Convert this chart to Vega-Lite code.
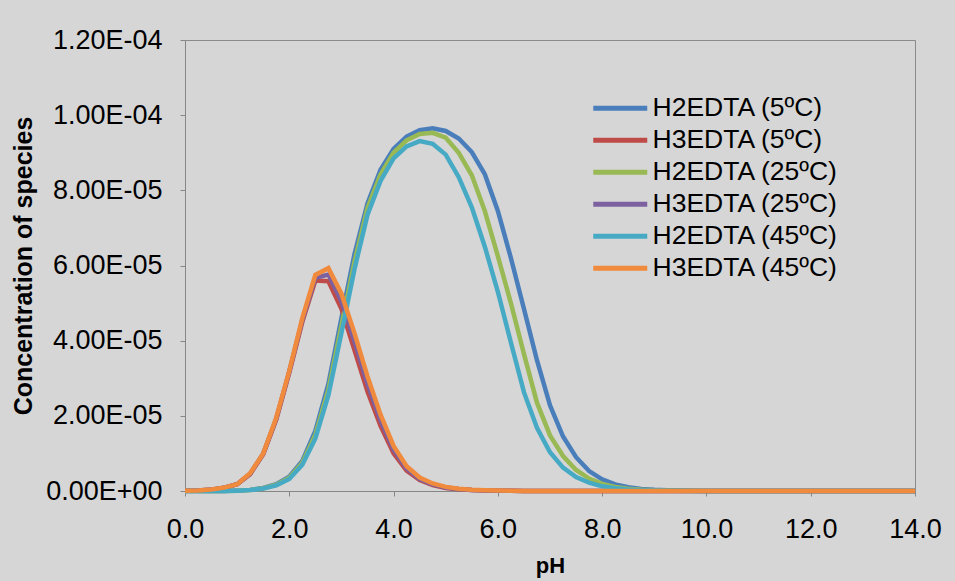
{
  "$schema": "https://vega.github.io/schema/vega-lite/v6.json",
  "width": 730,
  "height": 451,
  "autosize": {"type": "none"},
  "padding": {"left": 185, "top": 40, "right": 40, "bottom": 90},
  "background": "#d6d6d6",
  "config": {"font": "Liberation Sans", "view": {"stroke": "#8a8a8a", "strokeWidth": 1}},
  "data": {"values": [
    {"s":"H2EDTA (5ºC)","pH":0,"c":0},{"s":"H2EDTA (5ºC)","pH":0.25,"c":0},{"s":"H2EDTA (5ºC)","pH":0.5,"c":0.01e-6},{"s":"H2EDTA (5ºC)","pH":0.75,"c":0.03e-6},
    {"s":"H2EDTA (5ºC)","pH":1,"c":0.1e-6},{"s":"H2EDTA (5ºC)","pH":1.25,"c":0.3e-6},{"s":"H2EDTA (5ºC)","pH":1.5,"c":0.8e-6},{"s":"H2EDTA (5ºC)","pH":1.75,"c":1.8e-6},
    {"s":"H2EDTA (5ºC)","pH":2,"c":3.8e-6},{"s":"H2EDTA (5ºC)","pH":2.25,"c":8e-6},{"s":"H2EDTA (5ºC)","pH":2.5,"c":16e-6},{"s":"H2EDTA (5ºC)","pH":2.75,"c":28.5e-6},
    {"s":"H2EDTA (5ºC)","pH":3,"c":46e-6},{"s":"H2EDTA (5ºC)","pH":3.25,"c":63e-6},{"s":"H2EDTA (5ºC)","pH":3.5,"c":76.5e-6},{"s":"H2EDTA (5ºC)","pH":3.75,"c":85.5e-6},
    {"s":"H2EDTA (5ºC)","pH":4,"c":91e-6},{"s":"H2EDTA (5ºC)","pH":4.25,"c":94.3e-6},{"s":"H2EDTA (5ºC)","pH":4.5,"c":96e-6},{"s":"H2EDTA (5ºC)","pH":4.75,"c":96.5e-6},
    {"s":"H2EDTA (5ºC)","pH":5,"c":95.8e-6},{"s":"H2EDTA (5ºC)","pH":5.25,"c":93.8e-6},{"s":"H2EDTA (5ºC)","pH":5.5,"c":90.2e-6},{"s":"H2EDTA (5ºC)","pH":5.75,"c":84.3e-6},
    {"s":"H2EDTA (5ºC)","pH":6,"c":74.5e-6},{"s":"H2EDTA (5ºC)","pH":6.25,"c":62e-6},{"s":"H2EDTA (5ºC)","pH":6.5,"c":48.5e-6},{"s":"H2EDTA (5ºC)","pH":6.75,"c":34.8e-6},
    {"s":"H2EDTA (5ºC)","pH":7,"c":22.8e-6},{"s":"H2EDTA (5ºC)","pH":7.25,"c":14.5e-6},{"s":"H2EDTA (5ºC)","pH":7.5,"c":9e-6},{"s":"H2EDTA (5ºC)","pH":7.75,"c":5.3e-6},
    {"s":"H2EDTA (5ºC)","pH":8,"c":3.1e-6},{"s":"H2EDTA (5ºC)","pH":8.25,"c":1.75e-6},{"s":"H2EDTA (5ºC)","pH":8.5,"c":1e-6},{"s":"H2EDTA (5ºC)","pH":8.75,"c":0.56e-6},
    {"s":"H2EDTA (5ºC)","pH":9,"c":0.32e-6},{"s":"H2EDTA (5ºC)","pH":9.25,"c":0.18e-6},{"s":"H2EDTA (5ºC)","pH":9.5,"c":0.1e-6},{"s":"H2EDTA (5ºC)","pH":9.75,"c":0.056e-6},
    {"s":"H2EDTA (5ºC)","pH":10,"c":0.03e-6},{"s":"H2EDTA (5ºC)","pH":10.5,"c":0.01e-6},{"s":"H2EDTA (5ºC)","pH":11,"c":0.003e-6},{"s":"H2EDTA (5ºC)","pH":11.5,"c":0},
    {"s":"H2EDTA (5ºC)","pH":12,"c":0},{"s":"H2EDTA (5ºC)","pH":12.5,"c":0},{"s":"H2EDTA (5ºC)","pH":13,"c":0},{"s":"H2EDTA (5ºC)","pH":13.5,"c":0},{"s":"H2EDTA (5ºC)","pH":14,"c":0},

    {"s":"H3EDTA (5ºC)","pH":0,"c":0.05e-6},{"s":"H3EDTA (5ºC)","pH":0.25,"c":0.12e-6},{"s":"H3EDTA (5ºC)","pH":0.5,"c":0.35e-6},{"s":"H3EDTA (5ºC)","pH":0.75,"c":0.85e-6},
    {"s":"H3EDTA (5ºC)","pH":1,"c":1.8e-6},{"s":"H3EDTA (5ºC)","pH":1.25,"c":4.5e-6},{"s":"H3EDTA (5ºC)","pH":1.5,"c":9.8e-6},{"s":"H3EDTA (5ºC)","pH":1.75,"c":19e-6},
    {"s":"H3EDTA (5ºC)","pH":2,"c":31.5e-6},{"s":"H3EDTA (5ºC)","pH":2.25,"c":45e-6},{"s":"H3EDTA (5ºC)","pH":2.5,"c":56e-6},{"s":"H3EDTA (5ºC)","pH":2.75,"c":55.8e-6},
    {"s":"H3EDTA (5ºC)","pH":3,"c":48.5e-6},{"s":"H3EDTA (5ºC)","pH":3.25,"c":37.5e-6},{"s":"H3EDTA (5ºC)","pH":3.5,"c":26.5e-6},{"s":"H3EDTA (5ºC)","pH":3.75,"c":17.3e-6},
    {"s":"H3EDTA (5ºC)","pH":4,"c":10e-6},{"s":"H3EDTA (5ºC)","pH":4.25,"c":5.4e-6},{"s":"H3EDTA (5ºC)","pH":4.5,"c":2.9e-6},{"s":"H3EDTA (5ºC)","pH":4.75,"c":1.55e-6},
    {"s":"H3EDTA (5ºC)","pH":5,"c":0.82e-6},{"s":"H3EDTA (5ºC)","pH":5.25,"c":0.45e-6},{"s":"H3EDTA (5ºC)","pH":5.5,"c":0.24e-6},{"s":"H3EDTA (5ºC)","pH":5.75,"c":0.13e-6},
    {"s":"H3EDTA (5ºC)","pH":6,"c":0.07e-6},{"s":"H3EDTA (5ºC)","pH":6.25,"c":0.04e-6},{"s":"H3EDTA (5ºC)","pH":6.5,"c":0.02e-6},{"s":"H3EDTA (5ºC)","pH":6.75,"c":0.01e-6},
    {"s":"H3EDTA (5ºC)","pH":7,"c":0},{"s":"H3EDTA (5ºC)","pH":7.25,"c":0},{"s":"H3EDTA (5ºC)","pH":7.5,"c":0},{"s":"H3EDTA (5ºC)","pH":7.75,"c":0},
    {"s":"H3EDTA (5ºC)","pH":8,"c":0},{"s":"H3EDTA (5ºC)","pH":8.25,"c":0},{"s":"H3EDTA (5ºC)","pH":8.5,"c":0},{"s":"H3EDTA (5ºC)","pH":8.75,"c":0},
    {"s":"H3EDTA (5ºC)","pH":9,"c":0},{"s":"H3EDTA (5ºC)","pH":9.25,"c":0},{"s":"H3EDTA (5ºC)","pH":9.5,"c":0},{"s":"H3EDTA (5ºC)","pH":9.75,"c":0},
    {"s":"H3EDTA (5ºC)","pH":10,"c":0},{"s":"H3EDTA (5ºC)","pH":10.5,"c":0},{"s":"H3EDTA (5ºC)","pH":11,"c":0},{"s":"H3EDTA (5ºC)","pH":11.5,"c":0},
    {"s":"H3EDTA (5ºC)","pH":12,"c":0},{"s":"H3EDTA (5ºC)","pH":12.5,"c":0},{"s":"H3EDTA (5ºC)","pH":13,"c":0},{"s":"H3EDTA (5ºC)","pH":13.5,"c":0},{"s":"H3EDTA (5ºC)","pH":14,"c":0},

    {"s":"H2EDTA (25ºC)","pH":0,"c":0},{"s":"H2EDTA (25ºC)","pH":0.25,"c":0},{"s":"H2EDTA (25ºC)","pH":0.5,"c":0.01e-6},{"s":"H2EDTA (25ºC)","pH":0.75,"c":0.03e-6},
    {"s":"H2EDTA (25ºC)","pH":1,"c":0.09e-6},{"s":"H2EDTA (25ºC)","pH":1.25,"c":0.28e-6},{"s":"H2EDTA (25ºC)","pH":1.5,"c":0.75e-6},{"s":"H2EDTA (25ºC)","pH":1.75,"c":1.65e-6},
    {"s":"H2EDTA (25ºC)","pH":2,"c":3.5e-6},{"s":"H2EDTA (25ºC)","pH":2.25,"c":7.5e-6},{"s":"H2EDTA (25ºC)","pH":2.5,"c":15e-6},{"s":"H2EDTA (25ºC)","pH":2.75,"c":27e-6},
    {"s":"H2EDTA (25ºC)","pH":3,"c":44e-6},{"s":"H2EDTA (25ºC)","pH":3.25,"c":61e-6},{"s":"H2EDTA (25ºC)","pH":3.5,"c":75.3e-6},{"s":"H2EDTA (25ºC)","pH":3.75,"c":84.2e-6},
    {"s":"H2EDTA (25ºC)","pH":4,"c":90e-6},{"s":"H2EDTA (25ºC)","pH":4.25,"c":93.3e-6},{"s":"H2EDTA (25ºC)","pH":4.5,"c":95e-6},{"s":"H2EDTA (25ºC)","pH":4.75,"c":95.3e-6},
    {"s":"H2EDTA (25ºC)","pH":5,"c":94e-6},{"s":"H2EDTA (25ºC)","pH":5.25,"c":90e-6},{"s":"H2EDTA (25ºC)","pH":5.5,"c":84e-6},{"s":"H2EDTA (25ºC)","pH":5.75,"c":74.5e-6},
    {"s":"H2EDTA (25ºC)","pH":6,"c":62.5e-6},{"s":"H2EDTA (25ºC)","pH":6.25,"c":50e-6},{"s":"H2EDTA (25ºC)","pH":6.5,"c":36.5e-6},{"s":"H2EDTA (25ºC)","pH":6.75,"c":23.5e-6},
    {"s":"H2EDTA (25ºC)","pH":7,"c":14.8e-6},{"s":"H2EDTA (25ºC)","pH":7.25,"c":9.3e-6},{"s":"H2EDTA (25ºC)","pH":7.5,"c":5.6e-6},{"s":"H2EDTA (25ºC)","pH":7.75,"c":3.3e-6},
    {"s":"H2EDTA (25ºC)","pH":8,"c":1.9e-6},{"s":"H2EDTA (25ºC)","pH":8.25,"c":1.1e-6},{"s":"H2EDTA (25ºC)","pH":8.5,"c":0.6e-6},{"s":"H2EDTA (25ºC)","pH":8.75,"c":0.35e-6},
    {"s":"H2EDTA (25ºC)","pH":9,"c":0.2e-6},{"s":"H2EDTA (25ºC)","pH":9.25,"c":0.11e-6},{"s":"H2EDTA (25ºC)","pH":9.5,"c":0.06e-6},{"s":"H2EDTA (25ºC)","pH":9.75,"c":0.035e-6},
    {"s":"H2EDTA (25ºC)","pH":10,"c":0.02e-6},{"s":"H2EDTA (25ºC)","pH":10.5,"c":0.006e-6},{"s":"H2EDTA (25ºC)","pH":11,"c":0},{"s":"H2EDTA (25ºC)","pH":11.5,"c":0},
    {"s":"H2EDTA (25ºC)","pH":12,"c":0},{"s":"H2EDTA (25ºC)","pH":12.5,"c":0},{"s":"H2EDTA (25ºC)","pH":13,"c":0},{"s":"H2EDTA (25ºC)","pH":13.5,"c":0},{"s":"H2EDTA (25ºC)","pH":14,"c":0},

    {"s":"H3EDTA (25ºC)","pH":0,"c":0.05e-6},{"s":"H3EDTA (25ºC)","pH":0.25,"c":0.12e-6},{"s":"H3EDTA (25ºC)","pH":0.5,"c":0.37e-6},{"s":"H3EDTA (25ºC)","pH":0.75,"c":0.88e-6},
    {"s":"H3EDTA (25ºC)","pH":1,"c":1.8e-6},{"s":"H3EDTA (25ºC)","pH":1.25,"c":4.6e-6},{"s":"H3EDTA (25ºC)","pH":1.5,"c":9.9e-6},{"s":"H3EDTA (25ºC)","pH":1.75,"c":19.2e-6},
    {"s":"H3EDTA (25ºC)","pH":2,"c":31.8e-6},{"s":"H3EDTA (25ºC)","pH":2.25,"c":45.5e-6},{"s":"H3EDTA (25ºC)","pH":2.5,"c":56.7e-6},{"s":"H3EDTA (25ºC)","pH":2.75,"c":57.6e-6},
    {"s":"H3EDTA (25ºC)","pH":3,"c":50.5e-6},{"s":"H3EDTA (25ºC)","pH":3.25,"c":39.8e-6},{"s":"H3EDTA (25ºC)","pH":3.5,"c":28.5e-6},{"s":"H3EDTA (25ºC)","pH":3.75,"c":18.8e-6},
    {"s":"H3EDTA (25ºC)","pH":4,"c":11e-6},{"s":"H3EDTA (25ºC)","pH":4.25,"c":6e-6},{"s":"H3EDTA (25ºC)","pH":4.5,"c":3.2e-6},{"s":"H3EDTA (25ºC)","pH":4.75,"c":1.75e-6},
    {"s":"H3EDTA (25ºC)","pH":5,"c":0.95e-6},{"s":"H3EDTA (25ºC)","pH":5.25,"c":0.52e-6},{"s":"H3EDTA (25ºC)","pH":5.5,"c":0.28e-6},{"s":"H3EDTA (25ºC)","pH":5.75,"c":0.15e-6},
    {"s":"H3EDTA (25ºC)","pH":6,"c":0.08e-6},{"s":"H3EDTA (25ºC)","pH":6.25,"c":0.045e-6},{"s":"H3EDTA (25ºC)","pH":6.5,"c":0.025e-6},{"s":"H3EDTA (25ºC)","pH":6.75,"c":0.013e-6},
    {"s":"H3EDTA (25ºC)","pH":7,"c":0.007e-6},{"s":"H3EDTA (25ºC)","pH":7.25,"c":0},{"s":"H3EDTA (25ºC)","pH":7.5,"c":0},{"s":"H3EDTA (25ºC)","pH":7.75,"c":0},
    {"s":"H3EDTA (25ºC)","pH":8,"c":0},{"s":"H3EDTA (25ºC)","pH":8.25,"c":0},{"s":"H3EDTA (25ºC)","pH":8.5,"c":0},{"s":"H3EDTA (25ºC)","pH":8.75,"c":0},
    {"s":"H3EDTA (25ºC)","pH":9,"c":0},{"s":"H3EDTA (25ºC)","pH":9.25,"c":0},{"s":"H3EDTA (25ºC)","pH":9.5,"c":0},{"s":"H3EDTA (25ºC)","pH":9.75,"c":0},
    {"s":"H3EDTA (25ºC)","pH":10,"c":0},{"s":"H3EDTA (25ºC)","pH":10.5,"c":0},{"s":"H3EDTA (25ºC)","pH":11,"c":0},{"s":"H3EDTA (25ºC)","pH":11.5,"c":0},
    {"s":"H3EDTA (25ºC)","pH":12,"c":0},{"s":"H3EDTA (25ºC)","pH":12.5,"c":0},{"s":"H3EDTA (25ºC)","pH":13,"c":0},{"s":"H3EDTA (25ºC)","pH":13.5,"c":0},{"s":"H3EDTA (25ºC)","pH":14,"c":0},

    {"s":"H2EDTA (45ºC)","pH":0,"c":0},{"s":"H2EDTA (45ºC)","pH":0.25,"c":0},{"s":"H2EDTA (45ºC)","pH":0.5,"c":0.01e-6},{"s":"H2EDTA (45ºC)","pH":0.75,"c":0.02e-6},
    {"s":"H2EDTA (45ºC)","pH":1,"c":0.08e-6},{"s":"H2EDTA (45ºC)","pH":1.25,"c":0.25e-6},{"s":"H2EDTA (45ºC)","pH":1.5,"c":0.65e-6},{"s":"H2EDTA (45ºC)","pH":1.75,"c":1.5e-6},
    {"s":"H2EDTA (45ºC)","pH":2,"c":3.2e-6},{"s":"H2EDTA (45ºC)","pH":2.25,"c":7e-6},{"s":"H2EDTA (45ºC)","pH":2.5,"c":14e-6},{"s":"H2EDTA (45ºC)","pH":2.75,"c":25.5e-6},
    {"s":"H2EDTA (45ºC)","pH":3,"c":42e-6},{"s":"H2EDTA (45ºC)","pH":3.25,"c":59e-6},{"s":"H2EDTA (45ºC)","pH":3.5,"c":73.5e-6},{"s":"H2EDTA (45ºC)","pH":3.75,"c":82.5e-6},
    {"s":"H2EDTA (45ºC)","pH":4,"c":88.5e-6},{"s":"H2EDTA (45ºC)","pH":4.25,"c":91.7e-6},{"s":"H2EDTA (45ºC)","pH":4.5,"c":93.1e-6},{"s":"H2EDTA (45ºC)","pH":4.75,"c":92.4e-6},
    {"s":"H2EDTA (45ºC)","pH":5,"c":89.5e-6},{"s":"H2EDTA (45ºC)","pH":5.25,"c":83.5e-6},{"s":"H2EDTA (45ºC)","pH":5.5,"c":75.5e-6},{"s":"H2EDTA (45ºC)","pH":5.75,"c":65e-6},
    {"s":"H2EDTA (45ºC)","pH":6,"c":53e-6},{"s":"H2EDTA (45ºC)","pH":6.25,"c":39.5e-6},{"s":"H2EDTA (45ºC)","pH":6.5,"c":26.3e-6},{"s":"H2EDTA (45ºC)","pH":6.75,"c":16.8e-6},
    {"s":"H2EDTA (45ºC)","pH":7,"c":10.3e-6},{"s":"H2EDTA (45ºC)","pH":7.25,"c":6.2e-6},{"s":"H2EDTA (45ºC)","pH":7.5,"c":3.7e-6},{"s":"H2EDTA (45ºC)","pH":7.75,"c":2.2e-6},
    {"s":"H2EDTA (45ºC)","pH":8,"c":1.25e-6},{"s":"H2EDTA (45ºC)","pH":8.25,"c":0.72e-6},{"s":"H2EDTA (45ºC)","pH":8.5,"c":0.4e-6},{"s":"H2EDTA (45ºC)","pH":8.75,"c":0.23e-6},
    {"s":"H2EDTA (45ºC)","pH":9,"c":0.13e-6},{"s":"H2EDTA (45ºC)","pH":9.25,"c":0.07e-6},{"s":"H2EDTA (45ºC)","pH":9.5,"c":0.04e-6},{"s":"H2EDTA (45ºC)","pH":9.75,"c":0.02e-6},
    {"s":"H2EDTA (45ºC)","pH":10,"c":0.01e-6},{"s":"H2EDTA (45ºC)","pH":10.5,"c":0},{"s":"H2EDTA (45ºC)","pH":11,"c":0},{"s":"H2EDTA (45ºC)","pH":11.5,"c":0},
    {"s":"H2EDTA (45ºC)","pH":12,"c":0},{"s":"H2EDTA (45ºC)","pH":12.5,"c":0},{"s":"H2EDTA (45ºC)","pH":13,"c":0},{"s":"H2EDTA (45ºC)","pH":13.5,"c":0},{"s":"H2EDTA (45ºC)","pH":14,"c":0},

    {"s":"H3EDTA (45ºC)","pH":0,"c":0.05e-6},{"s":"H3EDTA (45ºC)","pH":0.25,"c":0.13e-6},{"s":"H3EDTA (45ºC)","pH":0.5,"c":0.4e-6},{"s":"H3EDTA (45ºC)","pH":0.75,"c":0.9e-6},
    {"s":"H3EDTA (45ºC)","pH":1,"c":1.8e-6},{"s":"H3EDTA (45ºC)","pH":1.25,"c":4.7e-6},{"s":"H3EDTA (45ºC)","pH":1.5,"c":10e-6},{"s":"H3EDTA (45ºC)","pH":1.75,"c":19.5e-6},
    {"s":"H3EDTA (45ºC)","pH":2,"c":32e-6},{"s":"H3EDTA (45ºC)","pH":2.25,"c":46e-6},{"s":"H3EDTA (45ºC)","pH":2.5,"c":57.5e-6},{"s":"H3EDTA (45ºC)","pH":2.75,"c":59.3e-6},
    {"s":"H3EDTA (45ºC)","pH":3,"c":52.5e-6},{"s":"H3EDTA (45ºC)","pH":3.25,"c":42e-6},{"s":"H3EDTA (45ºC)","pH":3.5,"c":30.5e-6},{"s":"H3EDTA (45ºC)","pH":3.75,"c":20.3e-6},
    {"s":"H3EDTA (45ºC)","pH":4,"c":12e-6},{"s":"H3EDTA (45ºC)","pH":4.25,"c":6.6e-6},{"s":"H3EDTA (45ºC)","pH":4.5,"c":3.6e-6},{"s":"H3EDTA (45ºC)","pH":4.75,"c":2e-6},
    {"s":"H3EDTA (45ºC)","pH":5,"c":1.1e-6},{"s":"H3EDTA (45ºC)","pH":5.25,"c":0.6e-6},{"s":"H3EDTA (45ºC)","pH":5.5,"c":0.33e-6},{"s":"H3EDTA (45ºC)","pH":5.75,"c":0.18e-6},
    {"s":"H3EDTA (45ºC)","pH":6,"c":0.1e-6},{"s":"H3EDTA (45ºC)","pH":6.25,"c":0.055e-6},{"s":"H3EDTA (45ºC)","pH":6.5,"c":0.03e-6},{"s":"H3EDTA (45ºC)","pH":6.75,"c":0.016e-6},
    {"s":"H3EDTA (45ºC)","pH":7,"c":0.009e-6},{"s":"H3EDTA (45ºC)","pH":7.25,"c":0.005e-6},{"s":"H3EDTA (45ºC)","pH":7.5,"c":0},{"s":"H3EDTA (45ºC)","pH":7.75,"c":0},
    {"s":"H3EDTA (45ºC)","pH":8,"c":0},{"s":"H3EDTA (45ºC)","pH":8.25,"c":0},{"s":"H3EDTA (45ºC)","pH":8.5,"c":0},{"s":"H3EDTA (45ºC)","pH":8.75,"c":0},
    {"s":"H3EDTA (45ºC)","pH":9,"c":0},{"s":"H3EDTA (45ºC)","pH":9.25,"c":0},{"s":"H3EDTA (45ºC)","pH":9.5,"c":0},{"s":"H3EDTA (45ºC)","pH":9.75,"c":0},
    {"s":"H3EDTA (45ºC)","pH":10,"c":0},{"s":"H3EDTA (45ºC)","pH":10.5,"c":0},{"s":"H3EDTA (45ºC)","pH":11,"c":0},{"s":"H3EDTA (45ºC)","pH":11.5,"c":0},
    {"s":"H3EDTA (45ºC)","pH":12,"c":0},{"s":"H3EDTA (45ºC)","pH":12.5,"c":0},{"s":"H3EDTA (45ºC)","pH":13,"c":0},{"s":"H3EDTA (45ºC)","pH":13.5,"c":0},{"s":"H3EDTA (45ºC)","pH":14,"c":0}
  ]},
  "mark": {"type": "line", "strokeWidth": 4.5, "interpolate": "linear"},
  "encoding": {
    "x": {
      "field": "pH", "type": "quantitative",
      "scale": {"domain": [0, 14], "nice": false},
      "axis": {
        "values": [0, 2, 4, 6, 8, 10, 12, 14], "format": ".1f", "title": "pH", "grid": false,
        "labelFlush": false, "labelOverlap": false,
        "domainColor": "#868686", "tickColor": "#868686", "tickSize": 5,
        "labelFontSize": 27, "labelColor": "#000000", "labelPadding": 20,
        "titleFontSize": 22, "titleFontWeight": "bold", "titleColor": "#000000", "titlePadding": 13
      }
    },
    "y": {
      "field": "c", "type": "quantitative",
      "scale": {"domain": [0, 0.00012], "nice": false},
      "axis": {
        "values": [0, 0.00002, 0.00004, 0.00006, 0.00008, 0.0001, 0.00012],
        "labelExpr": "datum.value < 1e-9 ? '0.00E+00' : (datum.value > 9.9e-5 ? format(datum.value * 10000, '.2f') + 'E-04' : format(datum.value * 100000, '.2f') + 'E-05')",
        "title": "Concentration of species", "grid": false,
        "labelFlush": false, "labelOverlap": false,
        "domainColor": "#868686", "tickColor": "#868686", "tickSize": 5,
        "labelFontSize": 27, "labelColor": "#000000", "labelPadding": 18,
        "titleFontSize": 25, "titleFontWeight": "bold", "titleColor": "#000000", "titlePadding": 9
      }
    },
    "color": {
      "field": "s", "type": "nominal",
      "scale": {
        "domain": ["H2EDTA (5ºC)", "H3EDTA (5ºC)", "H2EDTA (25ºC)", "H3EDTA (25ºC)", "H2EDTA (45ºC)", "H3EDTA (45ºC)"],
        "range": ["#4A7EBB", "#BE4B48", "#98B954", "#7D60A0", "#46AAC5", "#F08A3C"]
      },
      "legend": {
        "orient": "none", "legendX": 405, "legendY": 55, "title": null, "padding": 0,
        "labelFontSize": 26.5, "labelColor": "#000000", "labelLimit": 0,
        "symbolType": "M-1,0H4.4", "symbolSize": 400, "symbolStrokeWidth": 5,
        "labelOffset": 36, "rowPadding": 5
      }
    }
  }
}
